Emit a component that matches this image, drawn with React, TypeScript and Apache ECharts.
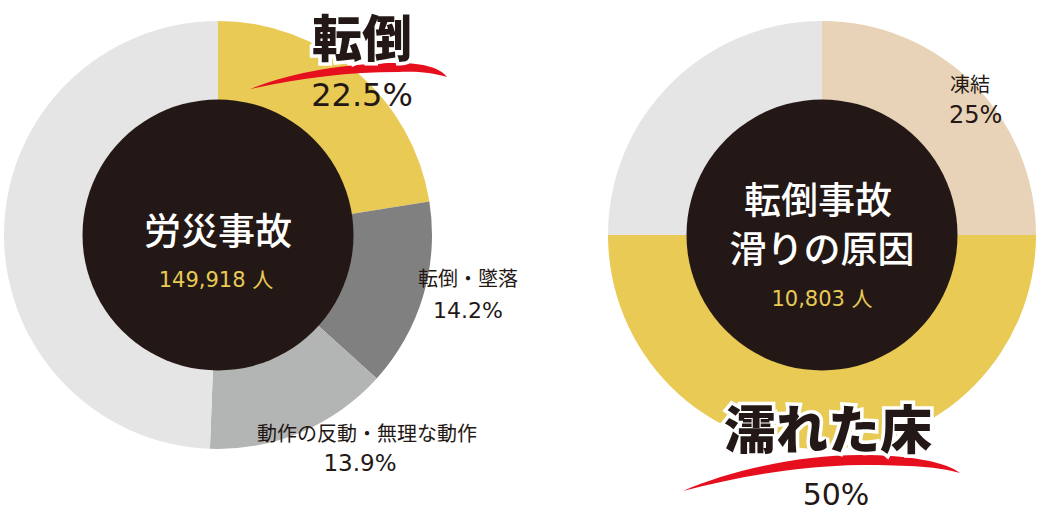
import React, { useEffect, useRef } from 'react';
import * as echarts from 'echarts';

// 労災事故 breakdown (%)
const leftNames = ['転倒', '転倒・墜落', '動作の反動・無理な動作', 'その他'];
const leftValues = [22.5, 14.2, 13.9, 49.4];
const leftColors = ['#E8CA55', '#808080', '#B3B4B4', '#E5E5E5'];
const leftTotal = '149,918';

// 転倒事故 滑りの原因 (%)
const rightNames = ['凍結', '濡れた床', 'その他'];
const rightValues = [25, 50, 25];
const rightColors = ['#E9D3B8', '#E8CA55', '#E5E5E5'];
const rightTotal = '10,803';

const DARK = '#231815';
const JP = '"Noto Sans CJK JP", "Noto Sans", sans-serif';
const NUM = '"DejaVu Sans", "Noto Sans CJK JP", sans-serif';

echarts.graphic.registerShape(
  'brushL',
  echarts.graphic.extendPath(
    'M250,89 C290,73 345,63 398,63 C424,63 440,68 447,77 C432,72 414,71 398,72 C348,72 300,78 250,89 Z',
    {}
  )
);
echarts.graphic.registerShape(
  'brushR',
  echarts.graphic.extendPath(
    'M683,491 C728,471 798,455 860,455 C910,455 946,462 960,473 C940,467 910,465 860,465 C800,466 740,476 683,491 Z',
    {}
  )
);

const txt = (text: string, x: number, y: number, size: number, opts: any = {}) => ({
  type: 'text',
  z: 100,
  style: {
    text,
    x,
    y,
    fill: opts.fill || DARK,
    fontSize: size,
    fontFamily: opts.family || JP,
    fontWeight: opts.weight || 'normal',
    textAlign: opts.align || 'center',
    textVerticalAlign: 'middle',
    align: opts.align || 'center',
    verticalAlign: 'middle',
    ...(opts.stroke ? { stroke: opts.stroke, lineWidth: opts.lineWidth || 6 } : {})
  }
});

const App: React.FC = () => {
  const chartRef = useRef<HTMLDivElement>(null);

  useEffect(() => {
    if (!chartRef.current) return;
    const chart = echarts.init(chartRef.current, undefined, { renderer: 'svg' });

    const options: any = {
      animation: false,
      series: [
        {
          type: 'pie',
          center: [218, 235],
          radius: [130, 214],
          startAngle: 90,
          silent: true,
          label: { show: false },
          labelLine: { show: false },
          data: leftNames.map((name, i) => ({
            name,
            value: leftValues[i],
            itemStyle: { color: leftColors[i] }
          }))
        },
        {
          type: 'pie',
          center: [822, 235],
          radius: [130, 214],
          startAngle: 90,
          silent: true,
          label: { show: false },
          labelLine: { show: false },
          data: rightNames.map((name, i) => ({
            name,
            value: rightValues[i],
            itemStyle: { color: rightColors[i] }
          }))
        }
      ],
      graphic: [
        { type: 'circle', z: 90, shape: { cx: 218, cy: 235, r: 135.5 }, style: { fill: DARK } },
        { type: 'circle', z: 90, shape: { cx: 822, cy: 235, r: 135.5 }, style: { fill: DARK } },
        { type: 'brushL', z: 95, x: 0, y: 0, style: { fill: '#E60F1E' } },
        { type: 'brushR', z: 95, x: 0, y: 0, style: { fill: '#E60F1E' } },

        // left chart
        txt('労災事故', 218, 229, 37, { fill: '#FFFFFF', weight: 500 }),
        txt(`${leftTotal} 人`, 216, 280, 21, { fill: '#E8CA55', family: NUM }),
        txt(leftNames[0], 362, 35, 50, { weight: 900, stroke: '#FFFFFF', lineWidth: 7 }),
        txt(`${leftValues[0]}%`, 362, 95, 32, { family: NUM }),
        txt(leftNames[1], 468, 277, 20),
        txt(`${leftValues[1]}%`, 468, 310, 22, { family: NUM }),
        txt(leftNames[2], 367, 432, 20),
        txt(`${leftValues[2]}%`, 360, 463, 23, { family: NUM }),

        // right chart
        txt('転倒事故', 818, 198, 37, { fill: '#FFFFFF', weight: 500 }),
        txt('滑りの原因', 822, 247, 37, { fill: '#FFFFFF', weight: 500 }),
        txt(`${rightTotal} 人`, 822, 299, 21, { fill: '#E8CA55', family: NUM }),
        txt(rightNames[0], 950, 83, 20, { align: 'left' }),
        txt(`${rightValues[0]}%`, 949, 115, 24, { family: NUM, align: 'left' }),
        txt(rightNames[1], 828, 426, 52, { weight: 900, stroke: '#FFFFFF', lineWidth: 7 }),
        txt(`${rightValues[1]}%`, 836, 494, 30, { family: NUM })
      ]
    };

    chart.setOption(options);
    return () => {
      chart.dispose();
    };
  }, []);

  return (
    <div
      ref={chartRef}
      style={{ position: 'absolute', left: 0, top: 0, width: 1043, height: 514, background: '#fff' }}
    />
  );
};

export default App;
